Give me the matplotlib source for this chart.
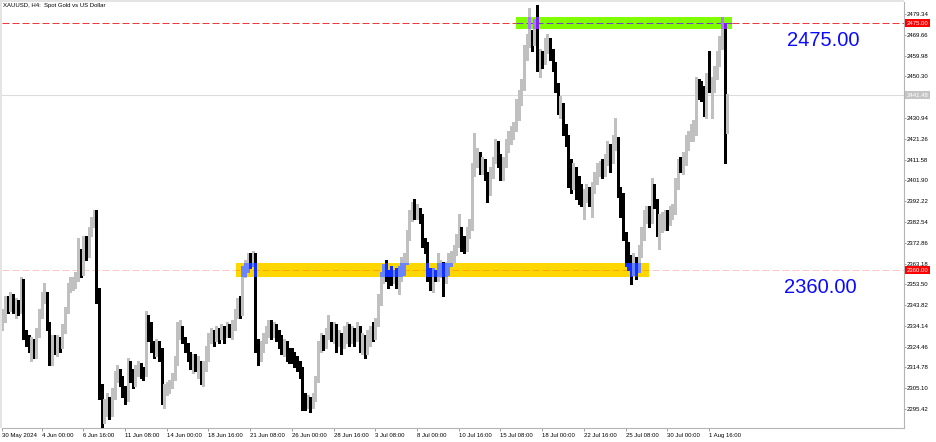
import numpy as np
import matplotlib
matplotlib.use('Agg')
import matplotlib.pyplot as plt
import matplotlib.transforms as mtransforms
from matplotlib.patches import Rectangle

plt.rcParams['font.family'] = ['Liberation Sans', 'DejaVu Sans']

# XAUUSD H4, 30 May 2024 12:00 .. 2 Aug 2024 20:00 (one line per trading day)
first_open = 2334
closes = [
    2338, 2345, 2344,
    2347, 2342, 2345, 2341, 2354, 2330,
    2327, 2326, 2327, 2321, 2330, 2340,
    2347, 2349, 2334, 2324, 2326, 2325,
    2327, 2326, 2332, 2341, 2352, 2354,
    2355, 2356, 2369, 2360, 2374, 2368,
    2378, 2383, 2386, 2350, 2305, 2294,
    2296, 2300, 2294, 2302, 2310, 2312,
    2309, 2303, 2302, 2315, 2311, 2307,
    2312, 2315, 2313, 2312, 2336, 2334,
    2325, 2322, 2326, 2322, 2301, 2304,
    2305, 2307, 2310, 2318, 2331, 2333,
    2328, 2325, 2320, 2317, 2319, 2315,
    2317, 2310, 2316, 2322, 2329, 2330,
    2328, 2331, 2329, 2332, 2330, 2334,
    2331, 2333, 2340, 2345, 2341, 2360,
    2362, 2366, 2364, 2367, 2326, 2322,
    2325, 2328, 2331, 2334, 2331, 2333,
    2330, 2328, 2324, 2325, 2322, 2321,
    2320, 2318, 2316, 2314, 2300, 2298,
    2299, 2297, 2300, 2309, 2324, 2328,
    2326, 2330, 2333, 2330, 2333, 2327,
    2329, 2326, 2330, 2333, 2328, 2331,
    2329, 2332, 2326, 2328, 2322, 2326,
    2331, 2330, 2335, 2346, 2356, 2360,
    2358, 2357, 2356, 2358, 2356, 2358,
    2361, 2366, 2376, 2385, 2388, 2387,
    2388, 2384, 2373, 2371, 2358, 2357,
    2358, 2357, 2359, 2362, 2357, 2361,
    2365, 2366, 2369, 2374, 2378, 2373,
    2370, 2377, 2381, 2406, 2413, 2413,
    2409, 2410, 2404, 2397, 2405, 2411,
    2418, 2412, 2405, 2410, 2418, 2422,
    2424, 2427, 2433, 2441, 2446, 2462,
    2466, 2468, 2466, 2474, 2456, 2460,
    2458, 2464, 2466, 2462, 2456, 2445,
    2436, 2437, 2426, 2421, 2403, 2400,
    2404, 2401, 2398, 2393, 2395, 2397,
    2393, 2398, 2403, 2407, 2408, 2406,
    2411, 2417, 2412, 2420, 2421, 2396,
    2394, 2377, 2372, 2365, 2361, 2364,
    2360, 2368, 2376, 2385, 2387, 2384,
    2396, 2392, 2380, 2382, 2384, 2386,
    2383, 2387, 2389, 2400, 2410, 2409,
    2412, 2420, 2422, 2425, 2427, 2447,
    2445, 2444, 2435, 2449, 2445, 2446,
    2452, 2458, 2466, 2473, 2431, 2441.48,
]
highs = [
    2342, 2348, 2348,
    2350, 2349, 2347, 2346, 2357, 2356,
    2332, 2330, 2329, 2328, 2333, 2342,
    2350, 2354, 2350, 2336, 2330, 2330,
    2330, 2329, 2335, 2343, 2354, 2357,
    2357, 2359, 2375, 2370, 2376, 2376,
    2380, 2385, 2388, 2388, 2352, 2307,
    2300, 2303, 2301, 2305, 2313, 2316,
    2314, 2311, 2306, 2319, 2318, 2314,
    2316, 2318, 2317, 2315, 2341, 2339,
    2336, 2327, 2328, 2327, 2324, 2307,
    2308, 2309, 2312, 2320, 2336, 2337,
    2334, 2329, 2326, 2322, 2321, 2321,
    2320, 2318, 2318, 2325, 2331, 2333,
    2332, 2334, 2333, 2335, 2334, 2336,
    2335, 2337, 2342, 2347, 2348, 2362,
    2365, 2368, 2368, 2369, 2368, 2328,
    2327, 2331, 2334, 2337, 2337, 2336,
    2335, 2332, 2330, 2328, 2327, 2324,
    2324, 2322, 2320, 2318, 2315, 2303,
    2302, 2301, 2303, 2311, 2327, 2331,
    2330, 2333, 2339, 2336, 2336, 2335,
    2332, 2331, 2334, 2336, 2335, 2334,
    2333, 2336, 2334, 2331, 2330, 2332,
    2334, 2336, 2338, 2349, 2359, 2363,
    2365, 2360, 2362, 2360, 2361, 2362,
    2366, 2368, 2379, 2388, 2392, 2393,
    2391, 2389, 2386, 2375, 2373, 2361,
    2361, 2360, 2368, 2365, 2364, 2364,
    2368, 2369, 2372, 2377, 2386, 2380,
    2376, 2380, 2384, 2410, 2424, 2417,
    2415, 2413, 2412, 2406, 2408, 2413,
    2421, 2420, 2414, 2413, 2421, 2425,
    2427, 2429, 2440, 2444, 2449, 2465,
    2470, 2482, 2472, 2477, 2483.5, 2463,
    2462, 2468, 2470, 2468, 2463, 2457,
    2447, 2441, 2438, 2428, 2423, 2412,
    2410, 2408, 2404, 2400, 2398, 2400,
    2399, 2401, 2406, 2410, 2411, 2412,
    2414, 2420, 2419, 2423, 2431, 2422,
    2399, 2396, 2378, 2373, 2367, 2368,
    2366, 2372, 2380, 2388, 2390, 2390,
    2403, 2400, 2393, 2386, 2387, 2388,
    2388, 2390, 2391, 2403, 2412, 2413,
    2415, 2423, 2425, 2428, 2430, 2450,
    2449, 2448, 2446, 2452, 2462, 2450,
    2455, 2462, 2469, 2478, 2475, 2442,
]
lows = [
    2332, 2336, 2340,
    2341, 2340, 2338, 2339, 2340, 2328,
    2325, 2322, 2318, 2319, 2319, 2329,
    2338, 2345, 2332, 2316, 2316, 2321,
    2320, 2322, 2324, 2331, 2340, 2350,
    2351, 2352, 2355, 2357, 2358, 2365,
    2366, 2376, 2380, 2345, 2300, 2287,
    2289, 2292, 2291, 2292, 2300, 2308,
    2306, 2301, 2298, 2299, 2308, 2305,
    2306, 2311, 2310, 2309, 2311, 2327,
    2322, 2319, 2320, 2318, 2298, 2296,
    2302, 2303, 2305, 2309, 2316, 2328,
    2326, 2322, 2318, 2314, 2312, 2313,
    2310, 2307, 2306, 2313, 2318, 2326,
    2325, 2327, 2326, 2328, 2326, 2329,
    2329, 2328, 2332, 2338, 2338, 2339,
    2357, 2359, 2361, 2362, 2322, 2316,
    2318, 2322, 2326, 2329, 2328, 2329,
    2327, 2324, 2321, 2320, 2318, 2317,
    2317, 2315, 2313, 2310, 2295, 2295,
    2296, 2294, 2296, 2299, 2308, 2322,
    2323, 2324, 2328, 2327, 2326, 2322,
    2325, 2321, 2324, 2326, 2325, 2326,
    2325, 2327, 2322, 2321, 2319, 2321,
    2325, 2327, 2328, 2334, 2344, 2354,
    2355, 2352, 2353, 2354, 2352, 2349,
    2355, 2358, 2363, 2374, 2383, 2384,
    2384, 2382, 2371, 2368, 2355, 2351,
    2350, 2355, 2355, 2357, 2348, 2354,
    2358, 2362, 2364, 2367, 2371, 2369,
    2368, 2369, 2375, 2379, 2404, 2408,
    2405, 2405, 2402, 2392, 2395, 2403,
    2410, 2408, 2402, 2402, 2408, 2415,
    2419, 2421, 2425, 2430, 2437, 2444,
    2458, 2464, 2462, 2465, 2453, 2450,
    2454, 2456, 2461, 2458, 2453, 2443,
    2433, 2431, 2423, 2418, 2399, 2396,
    2398, 2393, 2391, 2390, 2384, 2392,
    2390, 2385, 2396, 2400, 2404, 2403,
    2404, 2409, 2406, 2410, 2416, 2394,
    2385, 2374, 2362, 2360, 2353.5, 2358,
    2356, 2359, 2366, 2374, 2382, 2380,
    2382, 2389, 2376, 2370, 2378, 2379,
    2379, 2381, 2384, 2386, 2398, 2406,
    2405, 2409, 2416, 2420, 2420, 2423,
    2440, 2439, 2432, 2431, 2443, 2431,
    2443, 2449, 2455, 2463, 2410, 2424,
]
assert len(closes) == len(highs) == len(lows) == 279

date_labels = ['30 May 2024', '4 Jun 00:00', '6 Jun 16:00', '11 Jun 08:00', '14 Jun 00:00',
               '18 Jun 16:00', '21 Jun 08:00', '26 Jun 00:00', '28 Jun 16:00', '3 Jul 08:00',
               '8 Jul 00:00', '10 Jul 16:00', '15 Jul 08:00', '18 Jul 00:00', '22 Jul 16:00',
               '25 Jul 08:00', '30 Jul 00:00', '1 Aug 16:00']
date_bars = [0] + list(range(15, 279, 16))

price_ticks = [2479.34, 2469.66, 2459.98, 2450.30, 2440.62, 2430.94, 2421.26, 2411.58,
               2401.90, 2392.22, 2382.54, 2372.86, 2363.18, 2353.50, 2343.82, 2334.14,
               2324.46, 2314.78, 2305.10, 2295.42]

resistance = 2475.00
support = 2360.00
last_price = 2441.48
# zones: (first bar, last bar, low price, high price)
green_zone = (197.0, 279.8, 2472.4, 2477.9)
yellow_zone = (89.4, 248.0, 2357.0, 2363.6)

opens = [first_open] + closes[:-1]
o = np.array(opens, float)
c = np.array(closes, float)
h = np.maximum(np.array(highs, float), np.maximum(o, c))
l = np.minimum(np.array(lows, float), np.minimum(o, c))
x = np.arange(len(c))
up = c >= o

W, H = 936, 442
fig = plt.figure(figsize=(W / 100, H / 100), dpi=100)
fig.patch.set_facecolor('white')
ax = fig.add_axes([2 / W, 1 - 428 / H, (904 - 2) / W, (428 - 2) / H])
ax.set_facecolor('white')
ax.set_xlim(-0.19, 345.8)
ax.set_ylim(2286.60, 2484.93)

for s in ['top', 'left']:
    ax.spines[s].set_visible(False)
for s in ['bottom', 'right']:
    ax.spines[s].set_color('#b4b4b4')
    ax.spines[s].set_linewidth(0.8)

# zones
def zone_patch(z, col):
    r = Rectangle((z[0], z[2]), z[1] - z[0], z[3] - z[2], facecolor=col, edgecolor='none', zorder=1)
    ax.add_patch(r)
    return r

green = zone_patch(green_zone, '#80ff00')
yellow = zone_patch(yellow_zone, '#ffd700')

# horizontal price lines
ax.axhline(last_price, color='#dcdcdc', lw=0.8, zorder=0.5)
ax.plot([0, green_zone[0]], [resistance, resistance], color='#ee3b3b', lw=0.72,
        dashes=(7, 3), zorder=2)
ax.plot([green_zone[0], green_zone[1]], [resistance, resistance], color='#7a3cc8', lw=0.72,
        dashes=(7, 3), zorder=2)
ax.plot([green_zone[1], 346], [resistance, resistance], color='#ee3b3b', lw=0.72,
        dashes=(7, 3), zorder=2)
ax.axhline(support, color='#ff0000', alpha=0.22, lw=0.72, dashes=(7, 3), zorder=2)


def draw_candles(up_col, dn_col, z, clip=None):
    cols = np.where(up, up_col, dn_col)
    arts = [ax.vlines(x, l, h, colors=cols, linewidth=0.75, zorder=z, antialiased=False)]
    body_h = np.maximum(np.abs(c - o), 0.45)
    body_lo = np.minimum(o, c)
    # bullish bodies are drawn as thin light bars, bearish ones as solid 2px bars
    arts += list(ax.bar(x[up], body_h[up], bottom=body_lo[up], width=0.42, color=up_col,
                        linewidth=0, zorder=z, antialiased=False))
    arts += list(ax.bar(x[~up], body_h[~up], bottom=body_lo[~up], width=0.75, color=dn_col,
                        linewidth=0, zorder=z, antialiased=False))
    if clip is not None:
        for a in arts:
            a.set_clip_path(clip)


draw_candles('#c0c0c0', '#000000', 3)
draw_candles('#6a84ff', '#1030ff', 4, clip=yellow)
draw_candles('#b078ff', '#8020f0', 4, clip=green)

# axes ticks (the 2440.62 label sits under the last-price tag)
fs = 4.3
ax.yaxis.tick_right()
ax.set_yticks(price_ticks)
ax.set_yticklabels(['' if p == 2440.62 else f'{p:.2f}' for p in price_ticks])
ax.tick_params(axis='y', length=1.6, width=0.6, color='#909090', pad=0.6, labelsize=fs, labelcolor='black')
ax.set_xticks(date_bars)
ax.set_xticklabels(date_labels)
ax.tick_params(axis='x', length=2.5, width=0.6, color='#909090', pad=1.2, labelsize=fs, labelcolor='black')
for t in ax.get_xticklabels():
    t.set_ha('left')

# price tags on the axis
tr = mtransforms.blended_transform_factory(ax.transAxes, ax.transData)
for p, fc in [(resistance, '#ff0000'), (support, '#ff0000'), (last_price, '#c4c4c4')]:
    ax.text(1.003, p, f'{p:.2f}', transform=tr, ha='left', va='center', fontsize=fs,
            color='white', clip_on=False, zorder=10,
            bbox=dict(boxstyle='square,pad=0.25', fc=fc, ec='none'))

# title and level labels
fig.text(3 / W, 1 - 7.3 / H, 'XAUUSD, H4:  Spot Gold vs US Dollar', fontsize=fs, va='baseline', ha='left')
fig.text(859 / W, 1 - 45.7 / H, f'{resistance:.2f}', fontsize=14.5, color='#0a0aff', ha='right', va='baseline')
fig.text(857 / W, 1 - 292.7 / H, f'{support:.2f}', fontsize=14.5, color='#0a0aff', ha='right', va='baseline')

# window frame (light gray edges of the chart window)
fig.add_artist(Rectangle((0, 1 - 428 / H), 2 / W, 428 / H, transform=fig.transFigure,
                         facecolor='#e4e4e4', edgecolor='none'))
fig.add_artist(Rectangle((0, 1 - 2 / H), 904 / W, 2 / H, transform=fig.transFigure,
                         facecolor='#e4e4e4', edgecolor='none'))

fig.savefig('out.png', dpi=100, facecolor='white')
